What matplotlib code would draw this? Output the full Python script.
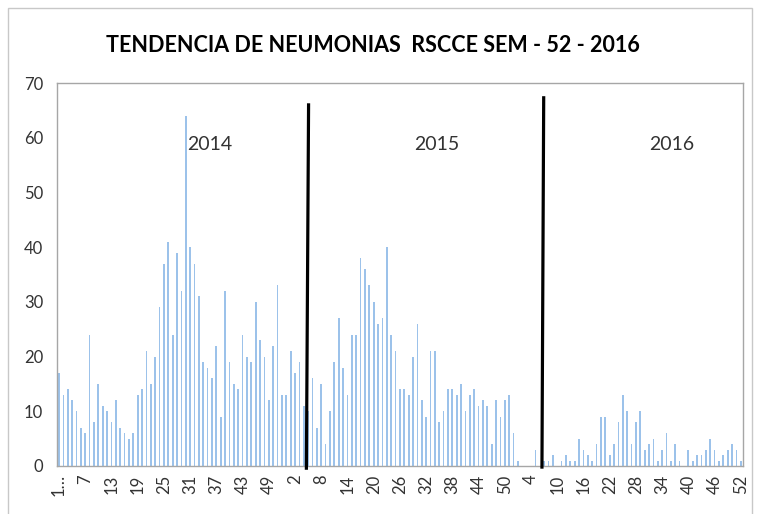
import matplotlib
matplotlib.use('Agg')
import matplotlib.pyplot as plt
from matplotlib.patches import Rectangle

# weekly pneumonia counts (epi weeks) - 2014 has 53 weeks
casos_2014 = [17, 13, 14, 12, 10, 7, 6, 24, 8, 15, 11, 10, 8, 12, 7, 6, 5, 6, 13, 14,
              21, 15, 20, 29, 37, 41, 24, 39, 32, 64, 40, 37, 31, 19, 18, 16, 22, 9, 32, 19,
              15, 14, 24, 20, 19, 30, 23, 20, 12, 22, 33, 13, 13]
casos_2015 = [21, 17, 19, 11, 10, 16, 7, 15, 4, 10, 19, 27, 18, 13, 24, 24, 38, 36, 33, 30,
              26, 27, 40, 24, 21, 14, 14, 13, 20, 26, 12, 9, 21, 21, 8, 10, 14, 14, 13, 15,
              10, 13, 14, 11, 12, 11, 4, 12, 9, 12, 13, 6]
casos_2016 = [1, 0, 0, 0, 3, 0, 1, 1, 2, 0, 1, 2, 1, 1, 5, 3, 2, 1, 4, 9,
              9, 2, 4, 8, 13, 10, 4, 8, 10, 3, 4, 5, 1, 3, 6, 1, 4, 1, 0, 3,
              1, 2, 2, 3, 5, 3, 1, 2, 3, 4, 3, 1]

semanas = list(range(1, 54)) + list(range(1, 53)) + list(range(1, 53))
casos = casos_2014 + casos_2015 + casos_2016

# year labels and the hand drawn separators (bar index units)
anios = ['2014', '2015', '2016']
anio_x = [34.5, 86.4, 140.1]
anio_y = 58.7
sep1_x, sep1_y = [56.6, 57.1], [-0.4, 66.0]
sep2_x, sep2_y = [110.5, 110.9], [-0.2, 67.3]

plt.rcParams['font.family'] = ['Lato', 'DejaVu Sans']

fig = plt.figure(figsize=(7.57, 5.14), dpi=100)
ax = fig.add_axes([0.0753, 0.0934, 0.9062, 0.7451])

x = list(range(len(casos)))
ax.bar(x, casos, width=0.4, color='#9cc2ea', zorder=2)

ax.plot(sep1_x, sep1_y, color='black', lw=2.3, clip_on=False, zorder=3)
ax.plot(sep2_x, sep2_y, color='black', lw=2.3, clip_on=False, zorder=3)

for t, xx in zip(anios, anio_x):
    ax.text(xx, anio_y, t, ha='center', va='center', fontsize=14, color='#333333')

ax.set_xlim(-0.46, len(casos) - 0.5)
ax.set_ylim(0, 70)
ax.set_yticks(range(0, 71, 10))

pos = x[::6]
labels = [str(semanas[i]) for i in pos]
labels[0] = '1…'
ax.set_xticks(pos)
ax.set_xticklabels(labels, rotation=90, fontsize=12, color='#333333')
ax.tick_params(axis='x', length=0, pad=6)
ax.tick_params(axis='y', length=0, labelsize=12, labelcolor='#333333', pad=10)

for s in ax.spines.values():
    s.set_color('#a6a6a6')
    s.set_linewidth(1.0)

fig.text(0.493, 0.912, 'TENDENCIA DE NEUMONIAS  RSCCE SEM - 52 - 2016',
         ha='center', va='center', fontsize=15.5, fontweight='bold', color='black')

fig.patches.append(Rectangle((0.011, -0.01), 0.983, 0.995, transform=fig.transFigure,
                             fill=False, edgecolor='#c8c8c8', lw=1.0))

fig.savefig('out.png', dpi=100)
